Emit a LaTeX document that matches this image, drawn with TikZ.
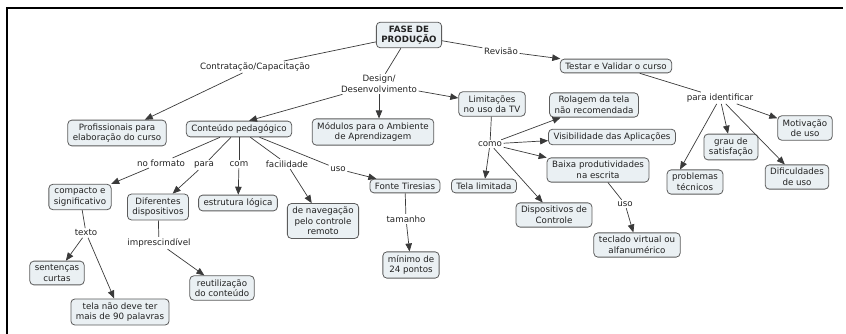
\documentclass[tikz,border=0pt]{standalone}
\usepackage{fontspec}
\setmainfont{DejaVu Sans}
\usetikzlibrary{arrows.meta}
\definecolor{caixa}{HTML}{EAF0F3}
\definecolor{borda}{HTML}{5C5C5C}
\definecolor{linha}{HTML}{3A3A3A}
\definecolor{texto}{HTML}{222222}
\tikzset{
		conceito/.style={
			draw=borda, fill=caixa, rounded corners=4pt, align=center, text=texto,
			inner xsep=5pt, inner ysep=3.5pt, line width=0.8pt},
		frase/.style={
			align=center, text=texto, inner sep=1.5pt},
		liga/.style={draw, line width=0.7pt, linha, -},
		seta/.style={liga, -{Triangle[length=8pt,width=6.5pt]}},
	}

\begin{document}
\begin{tikzpicture}[
			x=1pt, y=-1pt, font=\fontsize{8.7}{10.5}\selectfont]
			\useasboundingbox (0,0) rectangle (846,334);
			\draw[line width=2pt] (843,8) -- (7,8) -- (7,334);
			\node[conceito, font=\fontsize{8.7}{10.5}\selectfont\bfseries] (fase) at (409,35) {FASE DE\\PRODUÇÃO};
			\node[frase] (lcontr) at (255,67) {Contratação/Capacitação};
			\node[conceito] (prof) at (117,133) {Profissionais para\\elaboração do curso};
			\node[frase] (ldesign) at (379,84) {Design/\\Desenvolvimento};
			\node[conceito] (conteudo) at (239,129) {Conteúdo pedagógico};
			\node[conceito] (modulos) at (373,132) {Módulos para o Ambiente\\de Aprendizagem};
			\node[conceito] (limit) at (492,104) {Limitações\\no uso da TV};
			\node[frase] (lrevisao) at (501,51) {Revisão};
			\node[conceito] (testar) at (616,66) {Testar e Validar o curso};
			\node[frase] (lident) at (720,98) {para identificar};
			\node[conceito] (motiv) at (805,128) {Motivação\\de uso};
			\node[conceito] (grau) at (731,147) {grau de\\satisfação};
			\node[conceito] (probl) at (695,182) {problemas\\técnicos};
			\node[conceito] (dific) at (797,177) {Dificuldades\\de uso};
			\node[conceito] (rolagem) at (594,105) {Rolagem da tela\\não recomendada};
			\node[conceito] (visib) at (612,137) {Visibilidade das Aplicações};
			\node[conceito] (baixa) at (598,170) {Baixa produtividades\\na escrita};
			\node[frase] (lcomo) at (490,144) {como};
			\node[conceito] (tela) at (484,186) {Tela limitada};
			\node[conceito] (disp) at (554,215) {Dispositivos de\\Controle};
			\node[frase] (lusob) at (625,204) {uso};
			\node[conceito] (teclado) at (637,245) {teclado virtual ou\\alfanumérico};
			\node[frase] (lformato) at (161,163) {no formato};
			\node[conceito] (compacto) at (80,197) {compacto e\\significativo};
			\node[frase] (lpara) at (204,165) {para};
			\node[conceito] (difer) at (158,207) {Diferentes\\dispositivos};
			\node[frase] (lcom) at (239,164) {com};
			\node[conceito] (estrut) at (238,203) {estrutura lógica};
			\node[frase] (lfacil) at (287,164) {facilidade};
			\node[conceito] (naveg) at (323,221) {de navegação\\pelo controle\\remoto};
			\node[frase] (lusoa) at (338,169) {uso};
			\node[conceito] (fonte) at (405,186) {Fonte Tiresias};
			\node[frase] (ltam) at (406,219) {tamanho};
			\node[conceito] (minimo) at (411,265) {mínimo de\\24 pontos};
			\node[frase] (ltexto) at (86,233) {texto};
			\node[conceito] (sent) at (57,273) {sentenças\\curtas};
			\node[conceito] (telanao) at (120,312) {tela não deve ter\\mais de 90 palavras};
			\node[frase] (limpr) at (159,243) {imprescindível};
			\node[conceito] (reutil) at (222,288) {reutilização\\do conteúdo};
			\draw[liga] (fase) -- (lcontr); \draw[seta] (lcontr) -- (prof);
			\draw[liga] (fase) -- (ldesign);
			\draw[seta] (ldesign) -- ([xshift=10pt]conteudo.north);
			\draw[seta] (ldesign) -- (ldesign |- modulos.north);
			\draw[seta] (ldesign) -- (limit);
			\draw[liga] (fase) -- (lrevisao); \draw[seta] (lrevisao) -- (testar);
			\draw[liga] (testar) -- (lident);
			\draw[seta] (lident) -- (motiv);
			\draw[seta] (lident) -- (grau);
			\draw[seta] (lident) -- ([xshift=-15pt]probl.north);
			\draw[seta] (lident) -- (dific);
			\draw[liga] (limit) -- (lcomo);
			\draw[seta] (lcomo) -- (rolagem);
			\draw[seta] (lcomo) -- (visib);
			\draw[seta] (lcomo) -- (baixa);
			\draw[seta] (lcomo) -- (tela);
			\draw[seta] (lcomo) -- (disp);
			\draw[liga] (baixa) -- (lusob); \draw[seta] (lusob) -- (teclado);
			\draw[liga] (conteudo) -- (lformato); \draw[seta] (lformato) -- (compacto);
			\draw[liga] (conteudo) -- (lpara); \draw[seta] (lpara) -- (difer);
			\draw[liga] (conteudo) -- (lcom); \draw[seta] (lcom) -- (estrut);
			\draw[liga] (conteudo) -- (lfacil); \draw[seta] (lfacil) -- (naveg);
			\draw[liga] (conteudo) -- (lusoa); \draw[seta] (lusoa) -- (fonte);
			\draw[liga] (fonte) -- (ltam); \draw[seta] (ltam) -- (minimo);
			\draw[liga] (compacto) -- (ltexto);
			\draw[seta] (ltexto) -- (sent);
			\draw[seta] (ltexto) -- (telanao);
			\draw[liga] (difer) -- (limpr); \draw[seta] (limpr) -- (reutil);
			\end{tikzpicture}
\end{document}
